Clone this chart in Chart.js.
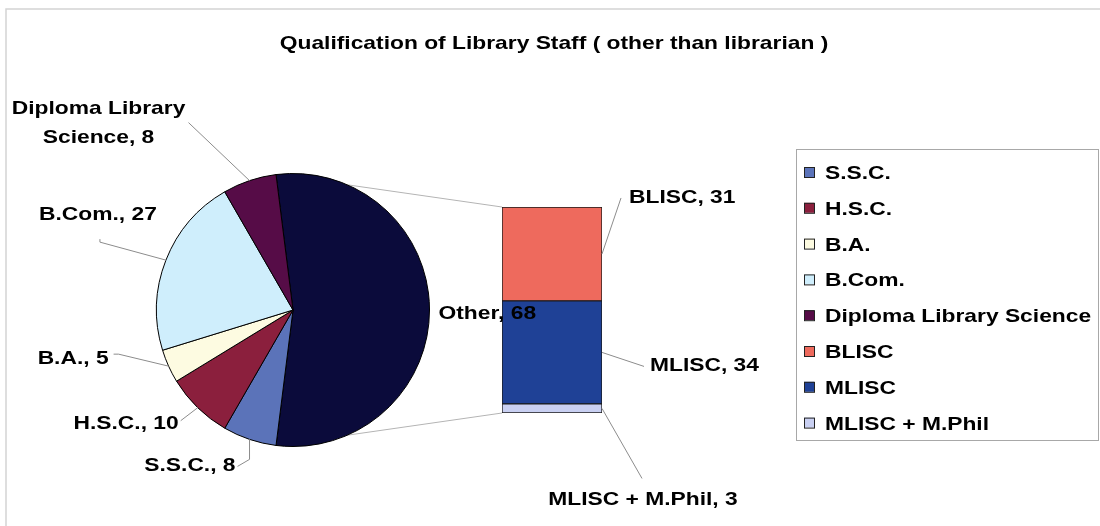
<!DOCTYPE html>
<html>
<head>
<meta charset="utf-8">
<title>Qualification of Library Staff</title>
<script src="https://cdn.jsdelivr.net/npm/chart.js@4.4.1/dist/chart.umd.min.js"></script>
<style>
  body { margin: 0; background: #fff; }
  #wrap { position: relative; width: 1100px; height: 526px; overflow: hidden; }
  #wrap canvas { position: absolute; }
  #barCanvas { left: 501px; top: 206px; }
  #pieCanvas { left: 0; top: 0; }
</style>
</head>
<body>
<div id="wrap">
  <canvas id="barCanvas" width="102" height="208"></canvas>
  <canvas id="pieCanvas" width="1100" height="526"></canvas>
</div>
<script>
const chartTitle = 'Qualification of Library Staff ( other than librarian )';

// main pie slices; the "Other" slice is the total of the bar breakdown
const pieLabels = ['S.S.C.', 'H.S.C.', 'B.A.', 'B.Com.', 'Diploma Library Science'];
const pieValues = [8, 10, 5, 27, 8];
const pieColors = ['#5b73b9', '#8b1f3d', '#fdfbe1', '#cfeefc', '#560c47'];

// breakdown of "Other", top to bottom
const barLabels = ['BLISC', 'MLISC', 'MLISC + M.Phil'];
const barValues = [31, 34, 3];
const barColors = ['#ee6a5d', '#1f4196', '#c9d0f2'];

const otherLabel = 'Other';
const otherColor = '#0b0b3b';

const otherTotal = barValues.reduce((a, b) => a + b, 0);
const grandTotal = otherTotal + pieValues.reduce((a, b) => a + b, 0);

const FONT = 'bold 19px "Liberation Sans", Arial, sans-serif';
const STRETCH = 1.2;

// label placement, relative to the point on the slice / segment edge
const pieLabelPos = [
  { dx: -14, dy: 25, align: 'right', lead: [[-12, 27], [0, 20]] },
  { dx: -19, dy: 14, align: 'right', lead: [[-17, 13]] },
  { dx: -60, dy: -9, align: 'right', lead: [[-55, -12], [-50, -12]] },
  { dx: -68, dy: -47, align: 'center', lead: [[-66, -21], [-66, -18]] },
  { dx: -151, dy: -74, align: 'center', lead: [[-61, -58]], breakAt: 15 }
];
const barLabelPos = [
  { dx: 27, dy: -58, align: 'left', lead: [[19, -56]] },
  { dx: 48, dy: 12, align: 'left', lead: [[42, 14]] },
  { dx: 41, dy: 90, align: 'center', lead: [[40, 70]] }
];

function drawText(ctx, text, x, y, align) {
  ctx.save();
  ctx.translate(x, y);
  ctx.scale(STRETCH, 1);
  ctx.font = FONT;
  ctx.textAlign = align;
  ctx.textBaseline = 'alphabetic';
  ctx.fillStyle = '#000';
  ctx.fillText(text, 0, 7);
  ctx.restore();
}

function drawLeader(ctx, pts) {
  ctx.save();
  ctx.strokeStyle = '#8c8c8c';
  ctx.lineWidth = 1;
  ctx.beginPath();
  pts.forEach((p, i) => i ? ctx.lineTo(p[0], p[1]) : ctx.moveTo(p[0], p[1]));
  ctx.stroke();
  ctx.restore();
}

const barChart = new Chart(document.getElementById('barCanvas'), {
  type: 'bar',
  data: {
    labels: [otherLabel],
    // stacked from the bottom up, so build in reverse order
    datasets: barLabels.map((name, i) => ({
      label: name,
      data: [barValues[i]],
      backgroundColor: barColors[i],
      borderColor: '#1a1a1a',
      borderWidth: 1,
      borderSkipped: false,
      barPercentage: 1,
      categoryPercentage: 1
    })).reverse()
  },
  options: {
    responsive: false,
    animation: false,
    devicePixelRatio: 1,
    layout: { padding: 1 },
    plugins: { legend: { display: false }, tooltip: { enabled: false } },
    scales: {
      x: { display: false, stacked: true },
      y: { display: false, stacked: true, min: 0, max: otherTotal }
    }
  }
});

// segment geometry of the bar, in page coordinates
function barSegment(k) {
  const cv = barChart.canvas;
  const el = barChart.getDatasetMeta(barLabels.length - 1 - k).data[0];
  const left = cv.offsetLeft + el.x - el.width / 2;
  return {
    left: left,
    right: left + el.width,
    top: cv.offsetTop + el.y,
    bottom: cv.offsetTop + el.base
  };
}

function arcEdge(arc, angle) {
  return [arc.x + arc.outerRadius * Math.cos(angle), arc.y + arc.outerRadius * Math.sin(angle)];
}

const pieOfBar = {
  id: 'pieOfBar',
  beforeDatasetsDraw(chart) {
    const ctx = chart.ctx;
    // outer frame
    ctx.save();
    ctx.strokeStyle = '#d4d4d4';
    ctx.lineWidth = 1.5;
    ctx.strokeRect(6, 9, 1200, 600);
    ctx.restore();

    // series lines from the "Other" slice to the bar
    const other = chart.getDatasetMeta(0).data[0];
    const top = barSegment(0);
    const bottom = barSegment(barLabels.length - 1);
    ctx.save();
    ctx.strokeStyle = '#b4b4b4';
    ctx.lineWidth = 1;
    ctx.beginPath();
    const a = arcEdge(other, other.startAngle);
    const b = arcEdge(other, other.endAngle);
    ctx.moveTo(a[0], a[1]);
    ctx.lineTo(top.left, top.top);
    ctx.moveTo(b[0], b[1]);
    ctx.lineTo(bottom.left, bottom.bottom);
    ctx.stroke();
    ctx.restore();
  },
  afterDraw(chart) {
    const ctx = chart.ctx;
    const arcs = chart.getDatasetMeta(0).data;

    drawText(ctx, chartTitle, 554, 42, 'center');

    // pie slice labels
    pieLabels.forEach((name, i) => {
      const arc = arcs[i + 1];
      const e = arcEdge(arc, (arc.startAngle + arc.endAngle) / 2);
      const p = pieLabelPos[i];
      drawLeader(ctx, p.lead.map(o => [e[0] + o[0], e[1] + o[1]]).concat([e]));
      const text = name + ', ' + pieValues[i];
      if (p.breakAt) {
        drawText(ctx, name.slice(0, p.breakAt), e[0] + p.dx, e[1] + p.dy, p.align);
        drawText(ctx, name.slice(p.breakAt + 1) + ', ' + pieValues[i], e[0] + p.dx, e[1] + p.dy + 29, p.align);
      } else {
        drawText(ctx, text, e[0] + p.dx, e[1] + p.dy, p.align);
      }
    });

    // "Other" label sits just right of the slice
    const oe = arcEdge(arcs[0], (arcs[0].startAngle + arcs[0].endAngle) / 2);
    drawText(ctx, otherLabel + ', ' + otherTotal, oe[0] + 9, oe[1] + 2, 'left');

    // bar segment labels
    barLabels.forEach((name, k) => {
      const s = barSegment(k);
      const e = [s.right, (s.top + s.bottom) / 2];
      const p = barLabelPos[k];
      drawLeader(ctx, p.lead.map(o => [e[0] + o[0], e[1] + o[1]]).concat([e]));
      drawText(ctx, name + ', ' + barValues[k], e[0] + p.dx, e[1] + p.dy, p.align);
    });

    // legend
    const items = pieLabels.map((n, i) => [n, pieColors[i]])
      .concat(barLabels.map((n, k) => [n, barColors[k]]));
    ctx.save();
    ctx.fillStyle = '#fff';
    ctx.fillRect(796, 149, 302, 291);
    ctx.strokeStyle = '#a8a8a8';
    ctx.lineWidth = 1;
    ctx.strokeRect(796.5, 149.5, 302, 291);
    items.forEach((it, i) => {
      const y = 172 + i * 35.8;
      ctx.fillStyle = it[1];
      ctx.fillRect(804, y - 5, 10, 10);
      ctx.strokeStyle = '#222';
      ctx.strokeRect(804.5, y - 4.5, 10, 10);
      drawText(ctx, it[0], 825, y, 'left');
    });
    ctx.restore();
  }
};

const pieChart = new Chart(document.getElementById('pieCanvas'), {
  type: 'pie',
  data: {
    labels: [otherLabel].concat(pieLabels),
    datasets: [{
      data: [otherTotal].concat(pieValues),
      backgroundColor: [otherColor].concat(pieColors),
      borderColor: '#000',
      borderWidth: 1
    }]
  },
  options: {
    responsive: false,
    animation: false,
    devicePixelRatio: 1,
    events: [],
    // centre the "Other" slice on the right-hand side
    rotation: 90 - (otherTotal / grandTotal * 360) / 2,
    layout: { padding: { left: 156, right: 670, top: 173, bottom: 79 } },
    plugins: { legend: { display: false }, tooltip: { enabled: false } }
  },
  plugins: [pieOfBar]
});
</script>
</body>
</html>
